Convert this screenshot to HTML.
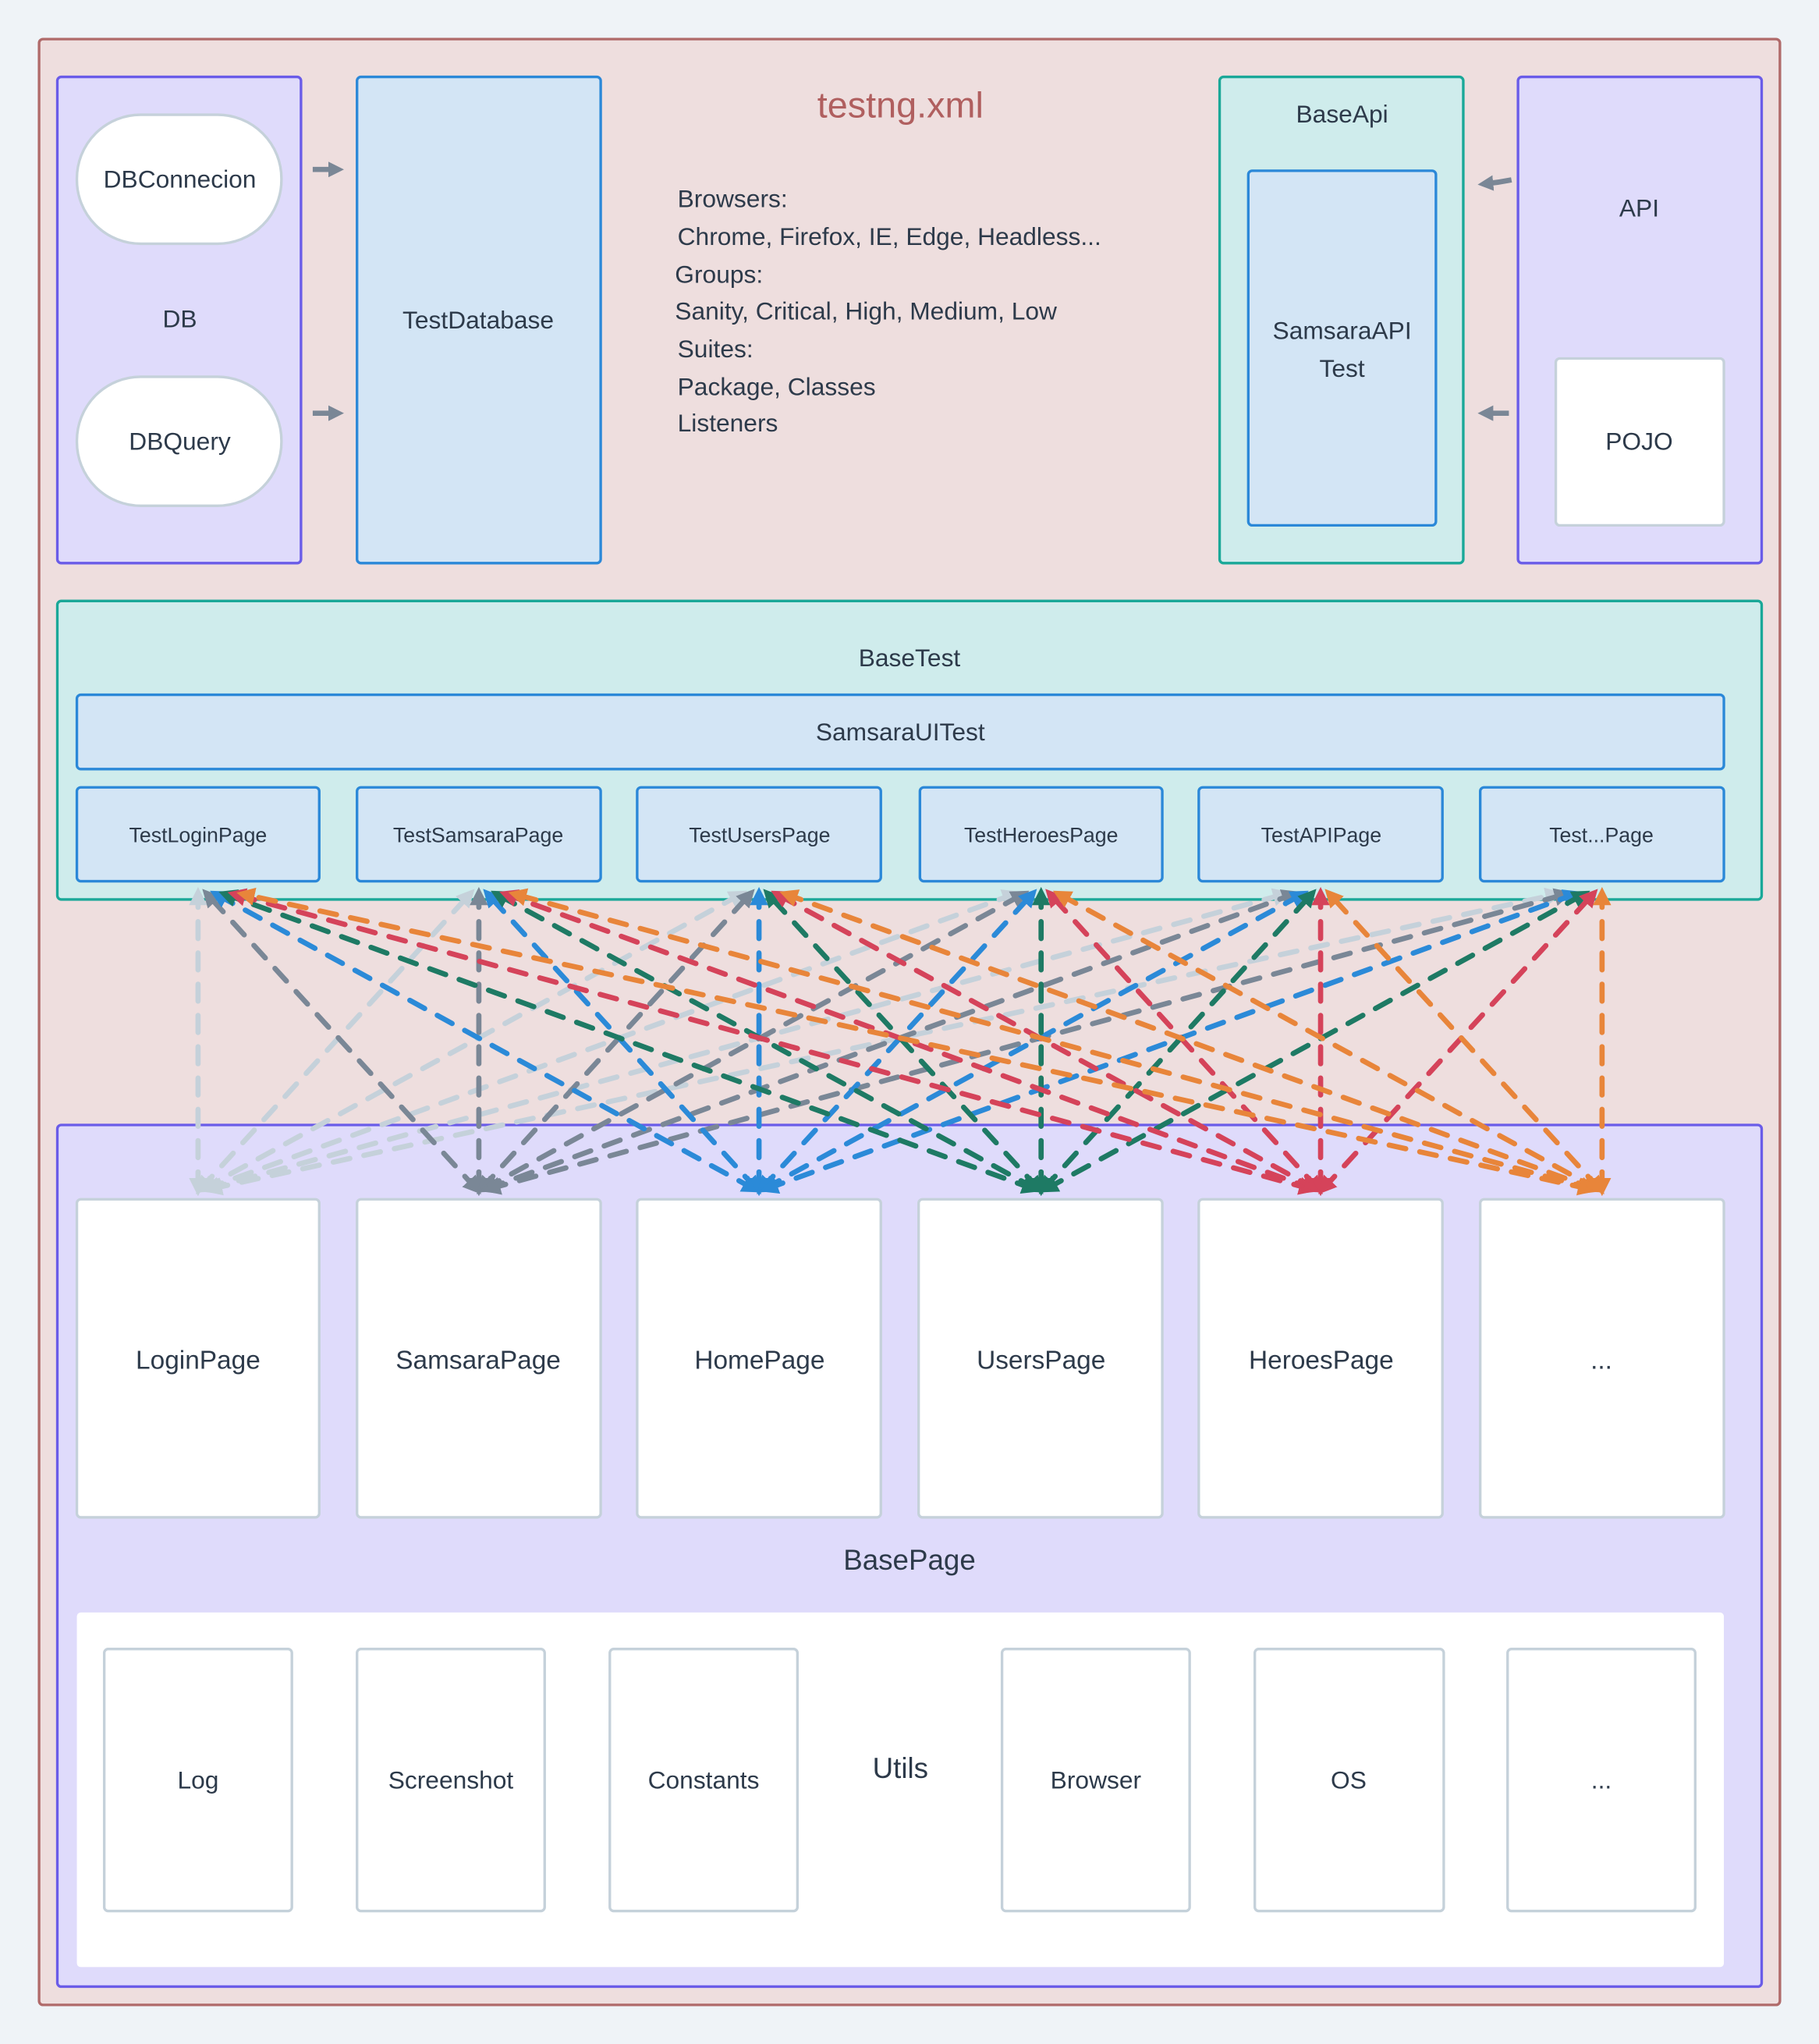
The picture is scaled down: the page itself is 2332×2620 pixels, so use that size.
<!DOCTYPE html>
<html><head><meta charset="utf-8"><style>
html,body{margin:0;padding:0;background:#eff3f7;}
svg{display:block;}
text{font-family:"Liberation Sans",sans-serif;fill:#2d3a4a;}
</style></head><body>
<svg width="2332" height="2620" viewBox="0 0 1396 1568" preserveAspectRatio="none" xmlns="http://www.w3.org/2000/svg">
<defs>
<marker id="ga" viewBox="0 0 10 10" refX="5" refY="5" markerWidth="3" markerHeight="3" orient="auto"><path d="M0,0L10,5L0,10z" fill="#7a8796"/></marker>
</defs>
<rect x="0" y="0" width="1396" height="1568" fill="#eff3f7"/>
<rect x="30" y="30" width="1336" height="1508" rx="3" fill="#eedede" stroke="#b06a6a" stroke-width="2"/>
<rect x="44" y="59" width="187" height="373" rx="3" fill="#dfdbfb" stroke="#6a5ce8" stroke-width="2"/>
<rect x="59" y="88" width="157" height="99" rx="49" fill="#fff" stroke="#c5d1da" stroke-width="2"/>
<rect x="59" y="289" width="157" height="99" rx="49" fill="#fff" stroke="#c5d1da" stroke-width="2"/>
<text x="138" y="144" font-size="19" text-anchor="middle">DBConnecion</text>
<text x="138" y="251" font-size="19" text-anchor="middle">DB</text>
<text x="138" y="345" font-size="19" text-anchor="middle">DBQuery</text>
<line x1="240" y1="130" x2="258" y2="130" stroke="#7a8796" stroke-width="4" marker-end="url(#ga)"/>
<line x1="240" y1="317" x2="258" y2="317" stroke="#7a8796" stroke-width="4" marker-end="url(#ga)"/>
<rect x="274" y="59" width="187" height="373" rx="3" fill="#d3e5f5" stroke="#2b88d8" stroke-width="2"/>
<text x="367" y="252" font-size="19" text-anchor="middle">TestDatabase</text>
<text x="691" y="90" font-size="28" style="fill:#b05f5f" text-anchor="middle">testng.xml</text>
<g font-size="19">
<text x="520" y="159">Browsers:</text>
<text x="520" y="188">Chrome, Firefox, IE, Edge, Headless...</text>
<text x="518" y="217">Groups:</text>
<text x="518" y="245">Sanity, Critical, High, Medium, Low</text>
<text x="520" y="274">Suites:</text>
<text x="520" y="303">Package, Classes</text>
<text x="520" y="331">Listeners</text>
</g>
<rect x="936" y="59" width="187" height="373" rx="3" fill="#cfecec" stroke="#1aa898" stroke-width="2"/>
<text x="1030" y="94" font-size="19" text-anchor="middle">BaseApi</text>
<rect x="958" y="131" width="144" height="272" rx="3" fill="#d3e5f5" stroke="#2b88d8" stroke-width="2"/>
<text x="1030" y="260" font-size="19" text-anchor="middle">SamsaraAPI</text>
<text x="1030" y="289" font-size="19" text-anchor="middle">Test</text>
<rect x="1165" y="59" width="187" height="373" rx="3" fill="#dfdbfb" stroke="#6a5ce8" stroke-width="2"/>
<text x="1258" y="166" font-size="19" text-anchor="middle">API</text>
<rect x="1194" y="275" width="129" height="128" rx="3" fill="#fff" stroke="#c5d1da" stroke-width="2"/>
<text x="1258" y="345" font-size="19" text-anchor="middle">POJO</text>
<path d="M1160,138 Q1150,140 1140,141" fill="none" stroke="#7a8796" stroke-width="4" marker-end="url(#ga)"/>
<line x1="1158" y1="317" x2="1140" y2="317" stroke="#7a8796" stroke-width="4" marker-end="url(#ga)"/>
<rect x="44" y="461" width="1308" height="229" rx="3" fill="#cfecec" stroke="#1aa898" stroke-width="2"/>
<text x="698" y="511" font-size="19" text-anchor="middle">BaseTest</text>
<rect x="59" y="533" width="1264" height="57" rx="3" fill="#d3e5f5" stroke="#2b88d8" stroke-width="2"/>
<text x="691" y="568" font-size="19" text-anchor="middle">SamsaraUITest</text>
<g font-size="16" text-anchor="middle">
<rect x="59" y="604" width="186" height="72" rx="3" fill="#d3e5f5" stroke="#2b88d8" stroke-width="2"/><text x="152" y="646">TestLoginPage</text>
<rect x="274" y="604" width="187" height="72" rx="3" fill="#d3e5f5" stroke="#2b88d8" stroke-width="2"/><text x="367" y="646">TestSamsaraPage</text>
<rect x="489" y="604" width="187" height="72" rx="3" fill="#d3e5f5" stroke="#2b88d8" stroke-width="2"/><text x="583" y="646">TestUsersPage</text>
<rect x="706" y="604" width="186" height="72" rx="3" fill="#d3e5f5" stroke="#2b88d8" stroke-width="2"/><text x="799" y="646">TestHeroesPage</text>
<rect x="920" y="604" width="187" height="72" rx="3" fill="#d3e5f5" stroke="#2b88d8" stroke-width="2"/><text x="1014" y="646">TestAPIPage</text>
<rect x="1136" y="604" width="187" height="72" rx="3" fill="#d3e5f5" stroke="#2b88d8" stroke-width="2"/><text x="1229" y="646">Test...Page</text>
</g>
<rect x="44" y="863" width="1308" height="661" rx="3" fill="#dfdbfb" stroke="#6a5ce8" stroke-width="2"/>
<g font-size="20" text-anchor="middle">
<rect x="59" y="920" width="186" height="244" rx="3" fill="#fff" stroke="#c5d1da" stroke-width="2"/><text x="152" y="1050">LoginPage</text>
<rect x="274" y="920" width="187" height="244" rx="3" fill="#fff" stroke="#c5d1da" stroke-width="2"/><text x="367" y="1050">SamsaraPage</text>
<rect x="489" y="920" width="187" height="244" rx="3" fill="#fff" stroke="#c5d1da" stroke-width="2"/><text x="583" y="1050">HomePage</text>
<rect x="705" y="920" width="187" height="244" rx="3" fill="#fff" stroke="#c5d1da" stroke-width="2"/><text x="799" y="1050">UsersPage</text>
<rect x="920" y="920" width="187" height="244" rx="3" fill="#fff" stroke="#c5d1da" stroke-width="2"/><text x="1014" y="1050">HeroesPage</text>
<rect x="1136" y="920" width="187" height="244" rx="3" fill="#fff" stroke="#c5d1da" stroke-width="2"/><text x="1229" y="1050">...</text>
</g>
<text x="698" y="1204" font-size="22" text-anchor="middle">BasePage</text>
<rect x="59" y="1237" width="1264" height="272" rx="3" fill="#fff"/>
<g font-size="19" text-anchor="middle">
<rect x="80" y="1265" width="144" height="201" rx="3" fill="#fff" stroke="#c5d1da" stroke-width="2"/><text x="152" y="1372">Log</text>
<rect x="274" y="1265" width="144" height="201" rx="3" fill="#fff" stroke="#c5d1da" stroke-width="2"/><text x="346" y="1372">Screenshot</text>
<rect x="468" y="1265" width="144" height="201" rx="3" fill="#fff" stroke="#c5d1da" stroke-width="2"/><text x="540" y="1372">Constants</text>
<rect x="769" y="1265" width="144" height="201" rx="3" fill="#fff" stroke="#c5d1da" stroke-width="2"/><text x="841" y="1372">Browser</text>
<rect x="963" y="1265" width="145" height="201" rx="3" fill="#fff" stroke="#c5d1da" stroke-width="2"/><text x="1035" y="1372">OS</text>
<rect x="1157" y="1265" width="144" height="201" rx="3" fill="#fff" stroke="#c5d1da" stroke-width="2"/><text x="1229" y="1372">...</text>
</g>
<text x="691" y="1364" font-size="22" text-anchor="middle">Utils</text>
<g id="conn" fill="none" stroke-width="4" stroke-dasharray="13 11" stroke-linecap="round"></g>
<script>
(function(){
var c=[152,367.5,582.5,799,1013.5,1229.5];
var col=["#c5d1da","#7a8796","#2b8ad8","#1e7a64","#d5435a","#e8853a"];
var g=document.getElementById("conn");var ns="http://www.w3.org/2000/svg";
var defs=document.querySelector("defs");
for(var i=0;i<6;i++){
 var m=document.createElementNS(ns,"marker");
 m.setAttribute("id","m"+i);m.setAttribute("viewBox","0 0 10 10");m.setAttribute("refX","6");m.setAttribute("refY","5");
 m.setAttribute("markerWidth","3.5");m.setAttribute("markerHeight","3.5");m.setAttribute("orient","auto-start-reverse");
 var p=document.createElementNS(ns,"path");p.setAttribute("d","M0,0L10,5L0,10z");p.setAttribute("fill",col[i]);
 m.appendChild(p);defs.appendChild(m);
}
for(var i=0;i<6;i++){for(var j=0;j<6;j++){
 var l=document.createElementNS(ns,"line");
 var x1=c[i]+(j-i)*2,y1=912,x2=c[j]+(i-j)*7,y2=686;
 l.setAttribute("x1",x1);l.setAttribute("y1",y1);l.setAttribute("x2",x2);l.setAttribute("y2",y2);
 l.setAttribute("stroke",col[i]);
 l.setAttribute("marker-start","url(#m"+i+")");l.setAttribute("marker-end","url(#m"+i+")");
 g.appendChild(l);
}}
})();
</script>
</svg>
</body></html>
